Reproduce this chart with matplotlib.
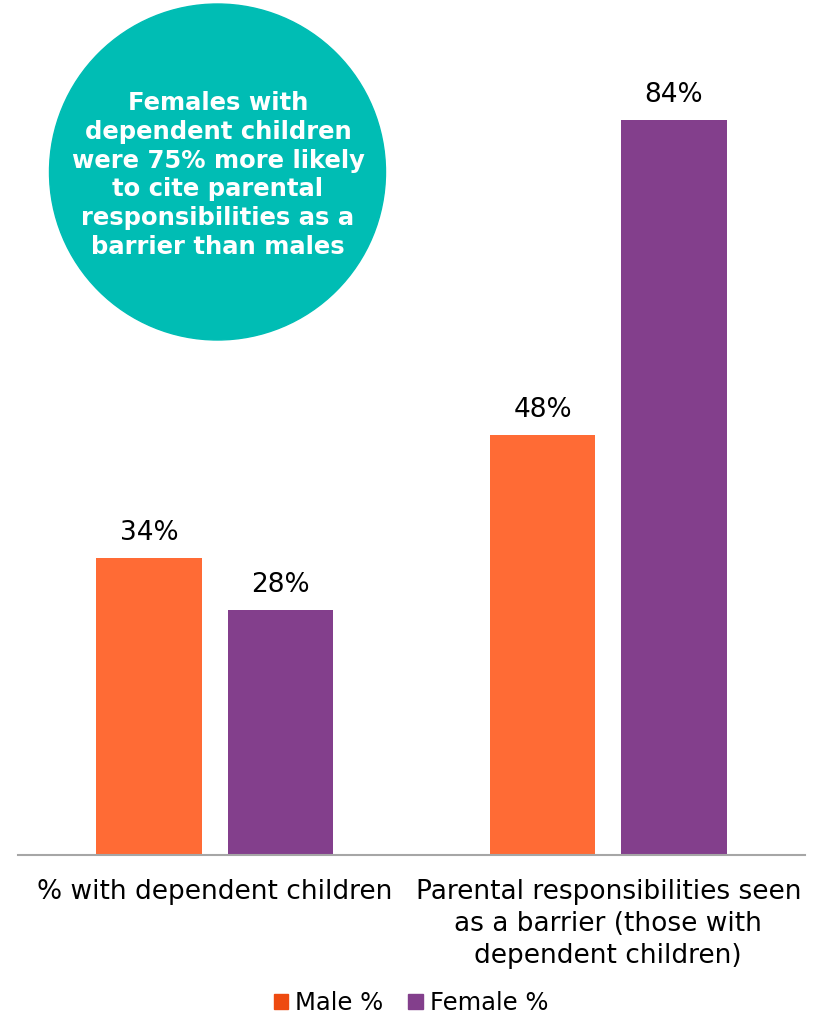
import matplotlib
matplotlib.use("Agg")
import matplotlib.pyplot as plt
from matplotlib.patches import Circle
import numpy as np

categories = ["% with dependent children",
              "Parental responsibilities seen\nas a barrier (those with\ndependent children)"]
series_names = ["Male %", "Female %"]
male = [34, 48]
female = [28, 84]
bar_colors = ["#FF6B35", "#833F8C"]
legend_colors = ["#EE4A10", "#833F8C"]
callout = ("Females with\ndependent children\nwere 75% more likely\nto cite parental\n"
           "responsibilities as a\nbarrier than males")

plt.rcParams['font.family'] = ['DejaVu Sans']

fig = plt.figure(figsize=(8.17, 10.14), dpi=100)
ax = fig.add_axes([18/817, 159/1014, 787/817, 855/1014])

x = np.arange(len(categories))
w = 0.269
off = 0.167
for vals, col, name, sgn in [(male, bar_colors[0], series_names[0], -1),
                             (female, bar_colors[1], series_names[1], 1)]:
    bars = ax.bar(x + sgn * off, vals, w, color=col, label=name)
    for b, v in zip(bars, vals):
        ax.text(b.get_x() + b.get_width() / 2, v + 2.0, f"{v}%",
                ha="center", va="baseline", fontsize=19, color="black")

ax.set_xlim(-0.5, 1.5)
ax.set_ylim(0, 855 / 8.75)
ax.set_xticks(x)
ax.set_xticklabels(categories, fontsize=19, linespacing=1.3)
ax.tick_params(axis="x", length=0, pad=17)
ax.set_yticks([])
for s in ["top", "right", "left"]:
    ax.spines[s].set_visible(False)
ax.spines["bottom"].set_color("#A6A6A6")
ax.spines["bottom"].set_linewidth(1.5)

handles = [plt.Rectangle((0, 0), 1, 1, color=c) for c in legend_colors]
fig.legend(handles, series_names, loc="center", bbox_to_anchor=(411/817, 1 - 1003/1014),
           ncol=2, frameon=False, fontsize=17.5, handlelength=0.6, handleheight=0.6,
           handletextpad=0.3, columnspacing=1.0)

circ = Circle((2.175, (1014 - 172) / 100), 1.68, transform=fig.dpi_scale_trans,
              color="#00BDB4", zorder=5)
fig.add_artist(circ)
fig.text(218 / 817, 1 - 175 / 1014, callout, ha="center", va="center", color="white",
         fontsize=17.5, fontweight="bold", linespacing=1.25, zorder=6)

fig.savefig("out.png", dpi=100)
